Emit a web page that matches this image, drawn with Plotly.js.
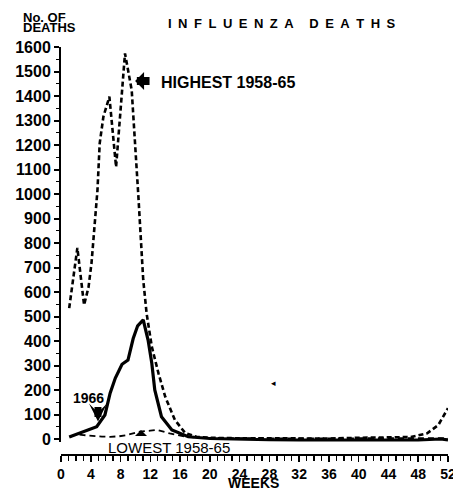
<!DOCTYPE html>
<html>
<head>
<meta charset="utf-8">
<script src="https://cdn.plot.ly/plotly-3.0.1.min.js"></script>
<style>html,body{margin:0;padding:0;background:#fff;}#chart{width:453px;height:490px;}</style>
</head>
<body>
<div id="chart"></div>
<script>
// Highest 1958-65 (dashed)
var highWeeks = [1.1, 2.2, 3.1, 3.7, 4.1, 4.5, 4.9, 5.2, 5.7, 6.5, 7.4, 8.6, 9.5, 10.4, 11.05, 11.5, 12.2, 13.1, 14.0, 15.3, 16.7, 18.2, 20, 24, 28, 32, 36, 40, 44, 47, 49.2, 50.7, 52];
var highDeaths = [534, 780, 547, 620, 718, 870, 1016, 1207, 1316, 1397, 1110, 1574, 1424, 989, 649, 513, 377, 268, 173, 78, 24, 9, 5, 3, 2, 1, 2, 5, 6, 8, 23, 57, 126];
// 1966 (solid)
var y1966Weeks = [1.1, 2.5, 4.0, 4.8, 5.9, 6.6, 7.3, 8.2, 9.0, 9.7, 10.3, 11.05, 11.7, 12.2, 12.6, 13.5, 14.9, 17.1, 20, 24, 28, 32, 36, 40, 44, 48, 50, 51, 52];
var y1966Deaths = [8, 25, 40, 50, 98, 187, 249, 305, 322, 410, 462, 486, 404, 309, 200, 91, 37, 9, 2, -2, -3, -4, -5, -4, -4, -4, -3, 0, -4];
// Lowest 1958-65 (thin dashed)
var lowWeeks = [1.2, 2.1, 3.0, 4.3, 5.5, 6.6, 7.8, 8.8, 10.6, 12.0, 12.9, 14.6, 16.9, 18.5, 24, 32, 40, 48, 52];
var lowDeaths = [9, 19, 16, 12, 10, 9, 11, 16, 30, 34, 37, 23, 9, 5, 3, 2, 3, 3, 3];

var yTicks = [0,100,200,300,400,500,600,700,800,900,1000,1100,1200,1300,1400,1500,1600];
var xTicks = [0,4,8,12,16,20,24,28,32,36,40,44,48,52];

var FONT = "Liberation Sans, Arial, sans-serif";

var traces = [
  {x: highWeeks, y: highDeaths, type: 'scatter', mode: 'lines',
   line: {color: '#000', width: 2.6, dash: '5px,3px'}, hoverinfo: 'skip'},
  {x: lowWeeks, y: lowDeaths, type: 'scatter', mode: 'lines',
   line: {color: '#000', width: 1.8, dash: '6px,4px'}, hoverinfo: 'skip'},
  {x: y1966Weeks, y: y1966Deaths, type: 'scatter', mode: 'lines',
   line: {color: '#000', width: 3.2}, hoverinfo: 'skip'}
];

var layout = {
  width: 453, height: 490,
  margin: {l: 61, r: 5, t: 47, b: 35, pad: 0},
  paper_bgcolor: '#fff', plot_bgcolor: '#fff',
  showlegend: false,
  xaxis: {
    range: [0, 52], anchor: 'free', position: 0,
    showline: true, linecolor: '#000', linewidth: 2,
    ticks: 'outside', ticklen: 6, tickwidth: 1.6, tickcolor: '#000',
    tickvals: xTicks, ticktext: xTicks.map(String),
    ticklabeloverflow: 'allow',
    minor: {dtick: 1, tick0: 0, ticks: 'outside', ticklen: 5, tickwidth: 1.4, tickcolor: '#000'},
    tickfont: {family: FONT, size: 14, color: '#000', weight: 'bold'},
    showgrid: false, zeroline: false, fixedrange: true
  },
  yaxis: {
    range: [-12, 1600], domain: [0.032, 1],
    showline: true, linecolor: '#000', linewidth: 2,
    ticks: 'outside', ticklen: 5, tickwidth: 2, tickcolor: '#000',
    tickvals: yTicks, ticktext: yTicks.map(String),
    minor: {dtick: 50, tick0: 0, ticks: 'outside', ticklen: 3, tickwidth: 1.4, tickcolor: '#000'},
    tickfont: {family: FONT, size: 16, color: '#000', weight: 'bold'},
    showgrid: false, zeroline: false, fixedrange: true
  },
  annotations: [
    {xref: 'paper', yref: 'paper', x: 0.571, y: 1.0588, xanchor: 'center', yanchor: 'middle',
     text: 'I\u2002N\u2002F\u2002L\u2002U\u2002E\u2002N\u2002Z\u2002A\u2003\u2009D\u2002E\u2002A\u2002T\u2002H\u2002S',
     showarrow: false, font: {family: FONT, size: 13, color: '#000', weight: 'bold'}},
    {xref: 'paper', yref: 'paper', x: -0.1034, y: 1.0735, xanchor: 'left', yanchor: 'middle',
     text: 'No. OF', showarrow: false, font: {family: FONT, size: 13, color: '#000', weight: 'bold'}},
    {xref: 'paper', yref: 'paper', x: -0.1034, y: 1.0478, xanchor: 'left', yanchor: 'middle',
     text: 'DEATHS', showarrow: false, font: {family: FONT, size: 13, color: '#000', weight: 'bold'}},
    {xref: 'x', yref: 'y', x: 13.17, y: 1457, xanchor: 'left', yanchor: 'middle',
     text: 'HIGHEST 1958-65', showarrow: false, font: {family: FONT, size: 16, color: '#000', weight: 'bold'}},
    {xref: 'x', yref: 'y', x: 9.95, y: 1461, text: '', showarrow: true,
     ax: 16, ay: 0, arrowhead: 1, arrowsize: 0.375, arrowwidth: 8, arrowcolor: '#000'},
    {xref: 'x', yref: 'y', x: 3.63, y: 167, xanchor: 'center', yanchor: 'middle',
     text: '1966', showarrow: false, font: {family: FONT, size: 14, color: '#000', weight: 'bold'}},
    {xref: 'x', yref: 'y', x: 4.97, y: 71, text: '', showarrow: true,
     ax: 0, ay: -16, arrowhead: 3, arrowsize: 0.43, arrowwidth: 7, arrowcolor: '#000'},
    {xref: 'x', yref: 'paper', x: 14.5, y: 0.0196, xanchor: 'center', yanchor: 'middle',
     text: 'LOWEST 1958-65', showarrow: false, font: {family: FONT, size: 15, color: '#000'}},
    {xref: 'x', yref: 'y', x: 10.75, y: 37, text: '', showarrow: true,
     ax: 0, ay: 7, arrowhead: 1, arrowsize: 1, arrowwidth: 2, arrowcolor: '#000'},
    {xref: 'paper', yref: 'paper', x: 0.4987, y: -0.0686, xanchor: 'center', yanchor: 'middle',
     text: 'WEEKS', showarrow: false, font: {family: FONT, size: 14, color: '#000', weight: 'bold'}},
    {xref: 'x', yref: 'y', x: 28.6, y: 230, xanchor: 'center', yanchor: 'middle',
     text: '\u25C2', showarrow: false, font: {family: 'DejaVu Sans', size: 9, color: '#000'}}
  ]
};

Plotly.newPlot('chart', traces, layout, {displayModeBar: false, staticPlot: true});
</script>
</body>
</html>
